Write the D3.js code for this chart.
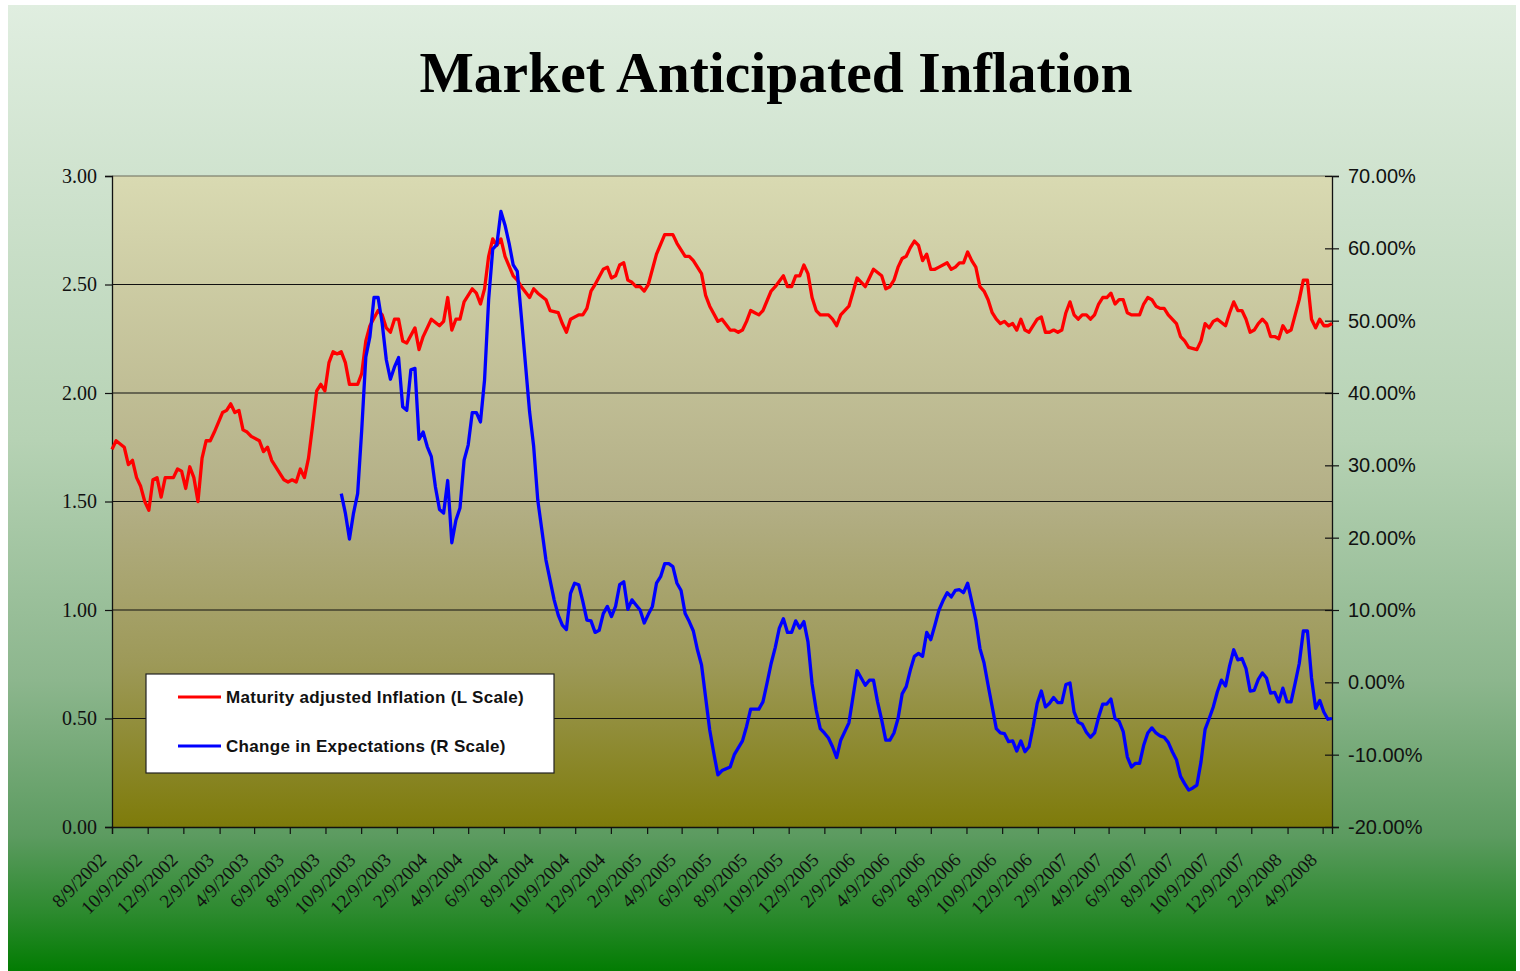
<!DOCTYPE html>
<html>
<head>
<meta charset="utf-8">
<script src="https://cdn.jsdelivr.net/npm/d3@7"></script>
<style>
  body { margin: 0; background: #fff; }
  svg { display: block; }
</style>
</head>
<body>
<div id="chart"></div>
<script>
// weekly observations, week 0 = 8/9/2002
const startDate = "8/9/2002";

// x axis labels (every two months)
const tickLabels = [
  "8/9/2002", "10/9/2002", "12/9/2002", "2/9/2003", "4/9/2003", "6/9/2003",
  "8/9/2003", "10/9/2003", "12/9/2003", "2/9/2004", "4/9/2004", "6/9/2004",
  "8/9/2004", "10/9/2004", "12/9/2004", "2/9/2005", "4/9/2005", "6/9/2005",
  "8/9/2005", "10/9/2005", "12/9/2005", "2/9/2006", "4/9/2006", "6/9/2006",
  "8/9/2006", "10/9/2006", "12/9/2006", "2/9/2007", "4/9/2007", "6/9/2007",
  "8/9/2007", "10/9/2007", "12/9/2007", "2/9/2008", "4/9/2008"
];

const leftTicks = [0, 0.5, 1, 1.5, 2, 2.5, 3];
const rightTicks = [-20, -10, 0, 10, 20, 30, 40, 50, 60, 70];

const seriesNames = [
  "Maturity adjusted Inflation (L Scale)",
  "Change in Expectations (R Scale)"
];

// [week, value] - maturity adjusted inflation (left scale)
const inflation = [
  [0,1.74],[1,1.78],[3,1.75],[4,1.67],[5,1.69],[6,1.61],[7,1.57],[8,1.50],[9,1.46],[10,1.60],
  [11,1.61],[12,1.52],[13,1.61],[15,1.61],[16,1.65],[17,1.64],[18,1.56],[19,1.66],[20,1.61],[21,1.50],
  [22,1.70],[23,1.78],[24,1.78],[25,1.82],[27,1.91],[28,1.92],[29,1.95],[30,1.91],[31,1.92],[32,1.83],
  [33,1.82],[34,1.80],[36,1.78],[37,1.73],[38,1.75],[39,1.69],[40,1.66],[41,1.63],[42,1.60],[43,1.59],
  [44,1.60],[45,1.59],[46,1.65],[47,1.61],[48,1.70],[49,1.85],[50,2.01],[51,2.04],[52,2.01],[53,2.14],
  [54,2.19],[55,2.18],[56,2.19],[57,2.14],[58,2.04],[59,2.04],[60,2.04],[61,2.09],[62,2.24],[63,2.31],
  [65,2.38],[66,2.36],[67,2.30],[68,2.28],[69,2.34],[70,2.34],[71,2.24],[72,2.23],[74,2.30],[75,2.20],
  [76,2.26],[78,2.34],[80,2.31],[81,2.33],[82,2.44],[83,2.29],[84,2.34],[85,2.34],[86,2.42],[88,2.48],
  [89,2.46],[90,2.41],[91,2.48],[92,2.63],[93,2.71],[94,2.68],[95,2.71],[96,2.63],[98,2.54],[99,2.52],
  [100,2.49],[102,2.44],[103,2.48],[104,2.46],[106,2.43],[107,2.38],[109,2.37],[110,2.32],[111,2.28],[112,2.34],
  [114,2.36],[115,2.36],[116,2.39],[117,2.47],[118,2.50],[120,2.57],[121,2.58],[122,2.53],[123,2.54],[124,2.59],
  [125,2.60],[126,2.52],[127,2.51],[128,2.49],[129,2.49],[130,2.47],[131,2.50],[133,2.64],[135,2.73],[137,2.73],
  [138,2.69],[139,2.66],[140,2.63],[141,2.63],[142,2.61],[143,2.58],[144,2.55],[145,2.45],[146,2.40],[148,2.33],
  [149,2.34],[151,2.29],[152,2.29],[153,2.28],[154,2.29],[155,2.33],[156,2.38],[157,2.37],[158,2.36],[159,2.38],
  [161,2.47],[162,2.49],[164,2.54],[165,2.49],[166,2.49],[167,2.54],[168,2.54],[169,2.59],[170,2.55],[171,2.44],
  [172,2.38],[173,2.36],[175,2.36],[176,2.34],[177,2.31],[178,2.36],[180,2.40],[182,2.53],[184,2.49],[186,2.57],
  [188,2.54],[189,2.48],[190,2.49],[191,2.52],[192,2.58],[193,2.62],[194,2.63],[195,2.67],[196,2.70],[197,2.68],
  [198,2.61],[199,2.64],[200,2.57],[201,2.57],[202,2.58],[204,2.60],[205,2.57],[206,2.58],[207,2.60],[208,2.60],
  [209,2.65],[210,2.61],[211,2.58],[212,2.49],[213,2.47],[214,2.43],[215,2.37],[216,2.34],[217,2.32],[218,2.33],
  [219,2.31],[220,2.32],[221,2.29],[222,2.34],[223,2.29],[224,2.28],[226,2.34],[227,2.35],[228,2.28],[229,2.28],
  [230,2.29],[231,2.28],[232,2.29],[233,2.37],[234,2.42],[235,2.36],[236,2.34],[237,2.36],[238,2.36],[239,2.34],
  [240,2.36],[241,2.41],[242,2.44],[243,2.44],[244,2.46],[245,2.41],[246,2.43],[247,2.43],[248,2.37],[249,2.36],
  [251,2.36],[252,2.41],[253,2.44],[254,2.43],[255,2.40],[256,2.39],[257,2.39],[258,2.36],[260,2.32],[261,2.26],
  [262,2.24],[263,2.21],[265,2.20],[266,2.24],[267,2.32],[268,2.30],[269,2.33],[270,2.34],[272,2.31],[273,2.37],
  [274,2.42],[275,2.38],[276,2.38],[277,2.34],[278,2.28],[279,2.29],[280,2.32],[281,2.34],[282,2.32],[283,2.26],
  [284,2.26],[285,2.25],[286,2.31],[287,2.28],[288,2.29],[289,2.36],[290,2.43],[291,2.52],[292,2.52],[293,2.34],
  [294,2.30],[295,2.34],[296,2.31],[297,2.31],[298,2.32]
];

// [week, percent] - change in expectations (right scale)
const expectations = [
  [56,26.1],[57,23.4],[58,19.8],[59,23.4],[60,26.1],[61,34.9],[62,45.0],[63,47.8],[64,53.2],[65,53.2],
  [66,49.6],[67,44.6],[68,41.9],[69,43.6],[70,44.9],[71,38.1],[72,37.6],[73,43.2],[74,43.4],[75,33.6],
  [76,34.6],[77,32.6],[78,31.2],[79,27.0],[80,23.9],[81,23.4],[82,27.9],[83,19.3],[84,22.4],[85,24.1],
  [86,30.7],[87,32.8],[88,37.3],[89,37.3],[90,36.0],[91,41.8],[92,52.9],[93,59.9],[94,60.5],[95,65.1],
  [96,63.2],[97,60.7],[98,57.7],[99,56.8],[100,50.5],[102,37.4],[103,32.6],[104,25.2],[106,16.9],[108,11.4],
  [109,9.3],[110,7.9],[111,7.3],[112,12.3],[113,13.7],[114,13.5],[115,11.2],[116,8.6],[117,8.5],[118,6.9],
  [119,7.2],[120,9.5],[121,10.5],[122,9.1],[123,10.5],[124,13.5],[125,13.9],[126,10.1],[127,11.4],[128,10.7],
  [129,10.0],[130,8.2],[131,9.4],[132,10.5],[133,13.7],[134,14.6],[135,16.4],[136,16.4],[137,16.0],[138,13.7],
  [139,12.7],[140,9.5],[141,8.4],[142,7.1],[143,4.5],[144,2.4],[146,-6.6],[147,-9.8],[148,-12.8],[149,-12.2],
  [151,-11.7],[152,-10.0],[154,-8.1],[155,-6.1],[156,-3.7],[158,-3.7],[159,-2.7],[160,-0.1],[161,2.6],[162,4.8],
  [163,7.5],[164,8.8],[165,6.9],[166,6.9],[167,8.5],[168,7.5],[169,8.4],[170,5.6],[171,-0.2],[172,-3.8],
  [173,-6.4],[174,-7.0],[175,-7.7],[176,-8.9],[177,-10.4],[178,-8.0],[180,-5.6],[181,-2.0],[182,1.6],[183,0.6],
  [184,-0.4],[185,0.3],[186,0.3],[187,-2.7],[188,-5.2],[189,-8.0],[190,-8.0],[191,-7.0],[192,-5.0],[193,-1.6],
  [194,-0.6],[195,1.7],[196,3.6],[197,4.0],[198,3.6],[199,6.9],[200,5.9],[201,7.9],[202,10.0],[203,11.3],
  [204,12.4],[205,11.8],[206,12.7],[207,12.8],[208,12.4],[209,13.7],[210,11.2],[211,8.6],[212,4.7],[213,2.7],
  [214,-0.4],[215,-3.4],[216,-6.4],[217,-7.0],[218,-7.1],[219,-8.2],[220,-8.1],[221,-9.5],[222,-8.1],[223,-9.6],
  [224,-8.9],[225,-6.1],[226,-2.9],[227,-1.2],[228,-3.4],[229,-2.9],[230,-2.1],[231,-2.8],[232,-2.8],[233,-0.3],
  [234,-0.1],[235,-4.1],[236,-5.5],[237,-5.8],[238,-6.9],[239,-7.6],[240,-7.0],[241,-4.8],[242,-3.0],[243,-3.0],
  [244,-2.3],[245,-5.0],[246,-5.4],[247,-6.8],[248,-10.3],[249,-11.7],[250,-11.2],[251,-11.2],[252,-8.7],[253,-7.0],
  [254,-6.3],[255,-7.0],[256,-7.4],[257,-7.6],[258,-8.3],[259,-9.6],[260,-10.7],[261,-13.0],[262,-14.0],[263,-14.9],
  [264,-14.6],[265,-14.2],[266,-11.0],[267,-6.5],[268,-5.0],[269,-3.4],[270,-1.3],[271,0.3],[272,-0.5],[273,2.3],
  [274,4.5],[275,3.1],[276,3.3],[277,1.9],[278,-1.2],[279,-1.1],[280,0.4],[281,1.3],[282,0.6],[283,-1.5],
  [284,-1.4],[285,-2.7],[286,-0.8],[287,-2.7],[288,-2.7],[289,-0.1],[290,2.6],[291,7.1],[292,7.1],[293,0.6],
  [294,-3.6],[295,-2.5],[296,-4.1],[297,-5.1],[298,-5.0]
];

const W = 1520, H = 971;
const margin = { top: 176, right: 188, bottom: 144, left: 112 };
const innerW = W - margin.left - margin.right;
const innerH = H - margin.top - margin.bottom;

const parse = d3.timeParse("%m/%d/%Y");
const t0 = parse(startDate);
const weekDate = (w) => d3.timeDay.offset(t0, w * 7);
const lastWeek = d3.max(inflation, (d) => d[0]);

const svg = d3.select("#chart").append("svg")
  .attr("width", W).attr("height", H);

const defs = svg.append("defs");

// fond vert
const bgGrad = defs.append("linearGradient").attr("id", "bgGrad")
  .attr("x1", 0).attr("y1", 0).attr("x2", 0).attr("y2", 1);
[[0, "#e0eee0"], [0.45, "#b6d2b4"], [0.7, "#8cb68d"], [0.86, "#5c9b60"], [0.94, "#2c8a2e"], [1, "#027c02"]]
  .forEach(([o, c]) => bgGrad.append("stop").attr("offset", o).attr("stop-color", c));

// fond du graphique
const plotGrad = defs.append("linearGradient").attr("id", "plotGrad")
  .attr("x1", 0).attr("y1", 0).attr("x2", 0).attr("y2", 1);
[[0, "#d9dab2"], [0.5, "#b3af86"], [0.75, "#9d9958"], [1, "#7e7b0a"]]
  .forEach(([o, c]) => plotGrad.append("stop").attr("offset", o).attr("stop-color", c));

svg.append("rect")
  .attr("x", 8).attr("y", 5)
  .attr("width", W - 12).attr("height", H - 5)
  .attr("fill", "url(#bgGrad)");

// titre
svg.append("text")
  .attr("x", 776).attr("y", 92)
  .attr("text-anchor", "middle")
  .style("font-family", "'Liberation Serif', 'Times New Roman', serif")
  .style("font-weight", "bold")
  .style("font-size", "58px")
  .attr("textLength", 713)
  .attr("lengthAdjust", "spacingAndGlyphs")
  .text("Market Anticipated Inflation");

const g = svg.append("g")
  .attr("transform", "translate(" + margin.left + "," + margin.top + ")");

// échelles
const x = d3.scaleTime()
  .domain([t0, weekDate(lastWeek)])
  .range([0, innerW]);

const yL = d3.scaleLinear().domain([0, 3]).range([innerH, 0]);
const yR = d3.scaleLinear().domain([-20, 70]).range([innerH, 0]);

g.append("rect")
  .attr("width", innerW).attr("height", innerH)
  .attr("fill", "url(#plotGrad)");

// lignes de grille
g.selectAll(".grid")
  .data(leftTicks.slice(1))
  .enter().append("line")
  .attr("class", "grid")
  .attr("x1", 0).attr("x2", innerW)
  .attr("y1", (d) => yL(d)).attr("y2", (d) => yL(d))
  .attr("stroke", (d) => (d === 3 ? "#6b6b5a" : "#111"))
  .attr("stroke-width", 1.2);

// axe gauche
const axisL = g.append("g")
  .call(d3.axisLeft(yL).tickValues(leftTicks).tickFormat(d3.format(".2f")).tickSize(7).tickPadding(8));
axisL.selectAll("text")
  .style("font-family", "'Liberation Serif', 'Times New Roman', serif")
  .style("font-size", "20px").attr("fill", "#111");

// axe droit
const axisR = g.append("g")
  .attr("transform", "translate(" + innerW + ",0)")
  .call(d3.axisRight(yR).tickValues(rightTicks).tickFormat((d) => d.toFixed(2) + "%").tickSize(7).tickPadding(9));
axisR.selectAll(".tick line").attr("x1", -7);
axisR.selectAll("text")
  .style("font-family", "'Liberation Sans', Arial, sans-serif")
  .style("font-size", "20px").attr("fill", "#111");

// axe X
const tickDates = tickLabels.map(parse);
const axisB = g.append("g")
  .attr("transform", "translate(0," + innerH + ")")
  .call(d3.axisBottom(x).tickValues(tickDates).tickFormat((d, i) => tickLabels[i]).tickSize(7));
axisB.selectAll("text")
  .style("font-family", "'Liberation Serif', 'Times New Roman', serif")
  .style("font-size", "19px").attr("fill", "#111")
  .attr("text-anchor", "end")
  .attr("x", 0).attr("y", 0).attr("dy", 0)
  .attr("transform", "translate(-5,34) rotate(-45)");

[axisL, axisR, axisB].forEach((a) => {
  a.select(".domain").attr("stroke", "#111").attr("stroke-width", 1.3);
  a.selectAll(".tick line").attr("stroke", "#111").attr("stroke-width", 1.2);
});

// courbes
const lineL = d3.line()
  .x((d) => x(weekDate(d[0])))
  .y((d) => yL(d[1]));
const lineR = d3.line()
  .x((d) => x(weekDate(d[0])))
  .y((d) => yR(d[1]));

g.append("path")
  .datum(inflation)
  .attr("d", lineL)
  .attr("fill", "none")
  .attr("stroke", "#ff0000")
  .attr("stroke-width", 3.3)
  .attr("stroke-linejoin", "round");

g.append("path")
  .datum(expectations)
  .attr("d", lineR)
  .attr("fill", "none")
  .attr("stroke", "#0000ff")
  .attr("stroke-width", 3.3)
  .attr("stroke-linejoin", "round");

// légende
const legend = svg.append("g").attr("transform", "translate(146,674)");
legend.append("rect")
  .attr("width", 408).attr("height", 99)
  .attr("fill", "#fff")
  .attr("stroke", "#222").attr("stroke-width", 1.2);

const legendColors = ["#ff0000", "#0000ff"];
seriesNames.forEach((name, i) => {
  const ly = 23 + i * 49;
  legend.append("line")
    .attr("x1", 32).attr("x2", 75)
    .attr("y1", ly).attr("y2", ly)
    .attr("stroke", legendColors[i]).attr("stroke-width", 3);
  legend.append("text")
    .attr("x", 80).attr("y", ly + 6)
    .style("font-family", "'Liberation Sans', Arial, sans-serif")
    .style("font-weight", "bold")
    .style("font-size", "17px")
    .style("letter-spacing", "0.3px")
    .attr("fill", "#111")
    .text(name);
});
</script>
</body>
</html>
